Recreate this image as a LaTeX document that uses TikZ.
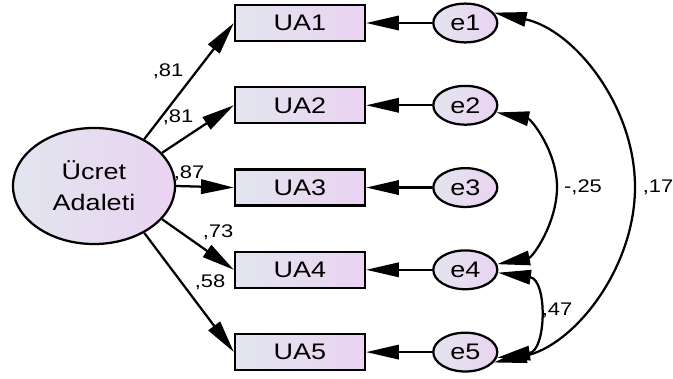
\documentclass[tikz,border=0pt]{standalone}
\usepackage{fontspec}
\setmainfont{Liberation Sans}[FakeStretch=1.2]
\usetikzlibrary{positioning, shapes.geometric, arrows.meta}

\definecolor{amosblue}{HTML}{E2E5EF}
\definecolor{amospink}{HTML}{EAD3F1}

\tikzset{
  latent/.style={draw, ellipse, line width=1.6pt, left color=amosblue, right color=amospink,
    font=\fontsize{16}{22}\selectfont, align=center, inner sep=0pt,
    minimum width=4.05cm, minimum height=2.9cm},
  observed/.style={draw, rectangle, line width=1.6pt, left color=amosblue, right color=amospink,
    font=\fontsize{16}{18}\selectfont, minimum width=3.25cm, minimum height=0.9cm},
  error/.style={draw, ellipse, line width=1.6pt, left color=amosblue, right color=amospink,
    font=\fontsize{16}{18}\selectfont, inner sep=0pt, minimum width=1.6cm, minimum height=0.97cm},
  reg/.style={->, line width=1.6pt},
  cov/.style={<->, line width=1.6pt},
  coef/.style={font=\fontsize{13}{15}\selectfont, inner sep=0pt},
}

\begin{document}
\begin{tikzpicture}[x=0.025cm, y=0.025cm, >={Triangle[length=0.82cm, width=0.36cm]}]
\useasboundingbox (0,0) rectangle (673,378);

\node[latent] (adalet) at (94,192) {Ücret\\Adaleti};

\node[observed] (ua1) at (300,355) {UA1};
\node[observed, below=1.1cm of ua1] (ua2) {UA2};
\node[observed, below=1.1cm of ua2] (ua3) {UA3};
\node[observed, below=1.1cm of ua3] (ua4) {UA4};
\node[observed, below=1.1cm of ua4] (ua5) {UA5};

\node[error, right=1.65cm of ua1] (e1) {e1};
\node[error, right=1.65cm of ua2] (e2) {e2};
\node[error, right=1.65cm of ua3] (e3) {e3};
\node[error, right=1.65cm of ua4] (e4) {e4};
\node[error, right=1.65cm of ua5] (e5) {e5};

% factor loadings
\draw[reg] (adalet.43) -- (ua1.west);
\draw[reg] (adalet.26) -- (ua2.west);
\draw[reg] (adalet.0) -- (ua3.west);
\draw[reg] (adalet.-26) -- (ua4.west);
\draw[reg] (adalet.-43) -- (ua5.west);

\node[coef] (w1) at (168,307) {,81};
\node[coef] (w2) at (178,261) {,81};
\node[coef] (w3) at (189,205) {,87};
\node[coef] (w4) at (218,146) {,73};
\node[coef] (w5) at (210,96) {,58};

% error terms
\draw[reg] (e1) -- (ua1);
\draw[reg] (e2) -- (ua2);
\draw[reg] (e3) -- (ua3);
\draw[reg] (e4) -- (ua4);
\draw[reg] (e5) -- (ua5);

% error covariances, the big ones go round a turning point
\coordinate (k15) at (635,191);
\coordinate (k24) at (557,191);
\draw[cov] (e1.20) to[out=-12, in=90, looseness=0.93] (k15) to[out=-90, in=12, looseness=0.93] (e5.-20);
\draw[cov] (e2.-13) to[out=-11, in=90, looseness=0.95] (k24) to[out=-90, in=11, looseness=0.95] (e4.10);
\draw[cov] (e4.-5) to[out=-8, in=8, looseness=1.5] (e5.-10);

\node[coef] (c15) at (658,191) {,17};
\node[coef] (c24) at (583,191) {-,25};
\node[coef] (c45) at (557,68) {,47};
\end{tikzpicture}
\end{document}
